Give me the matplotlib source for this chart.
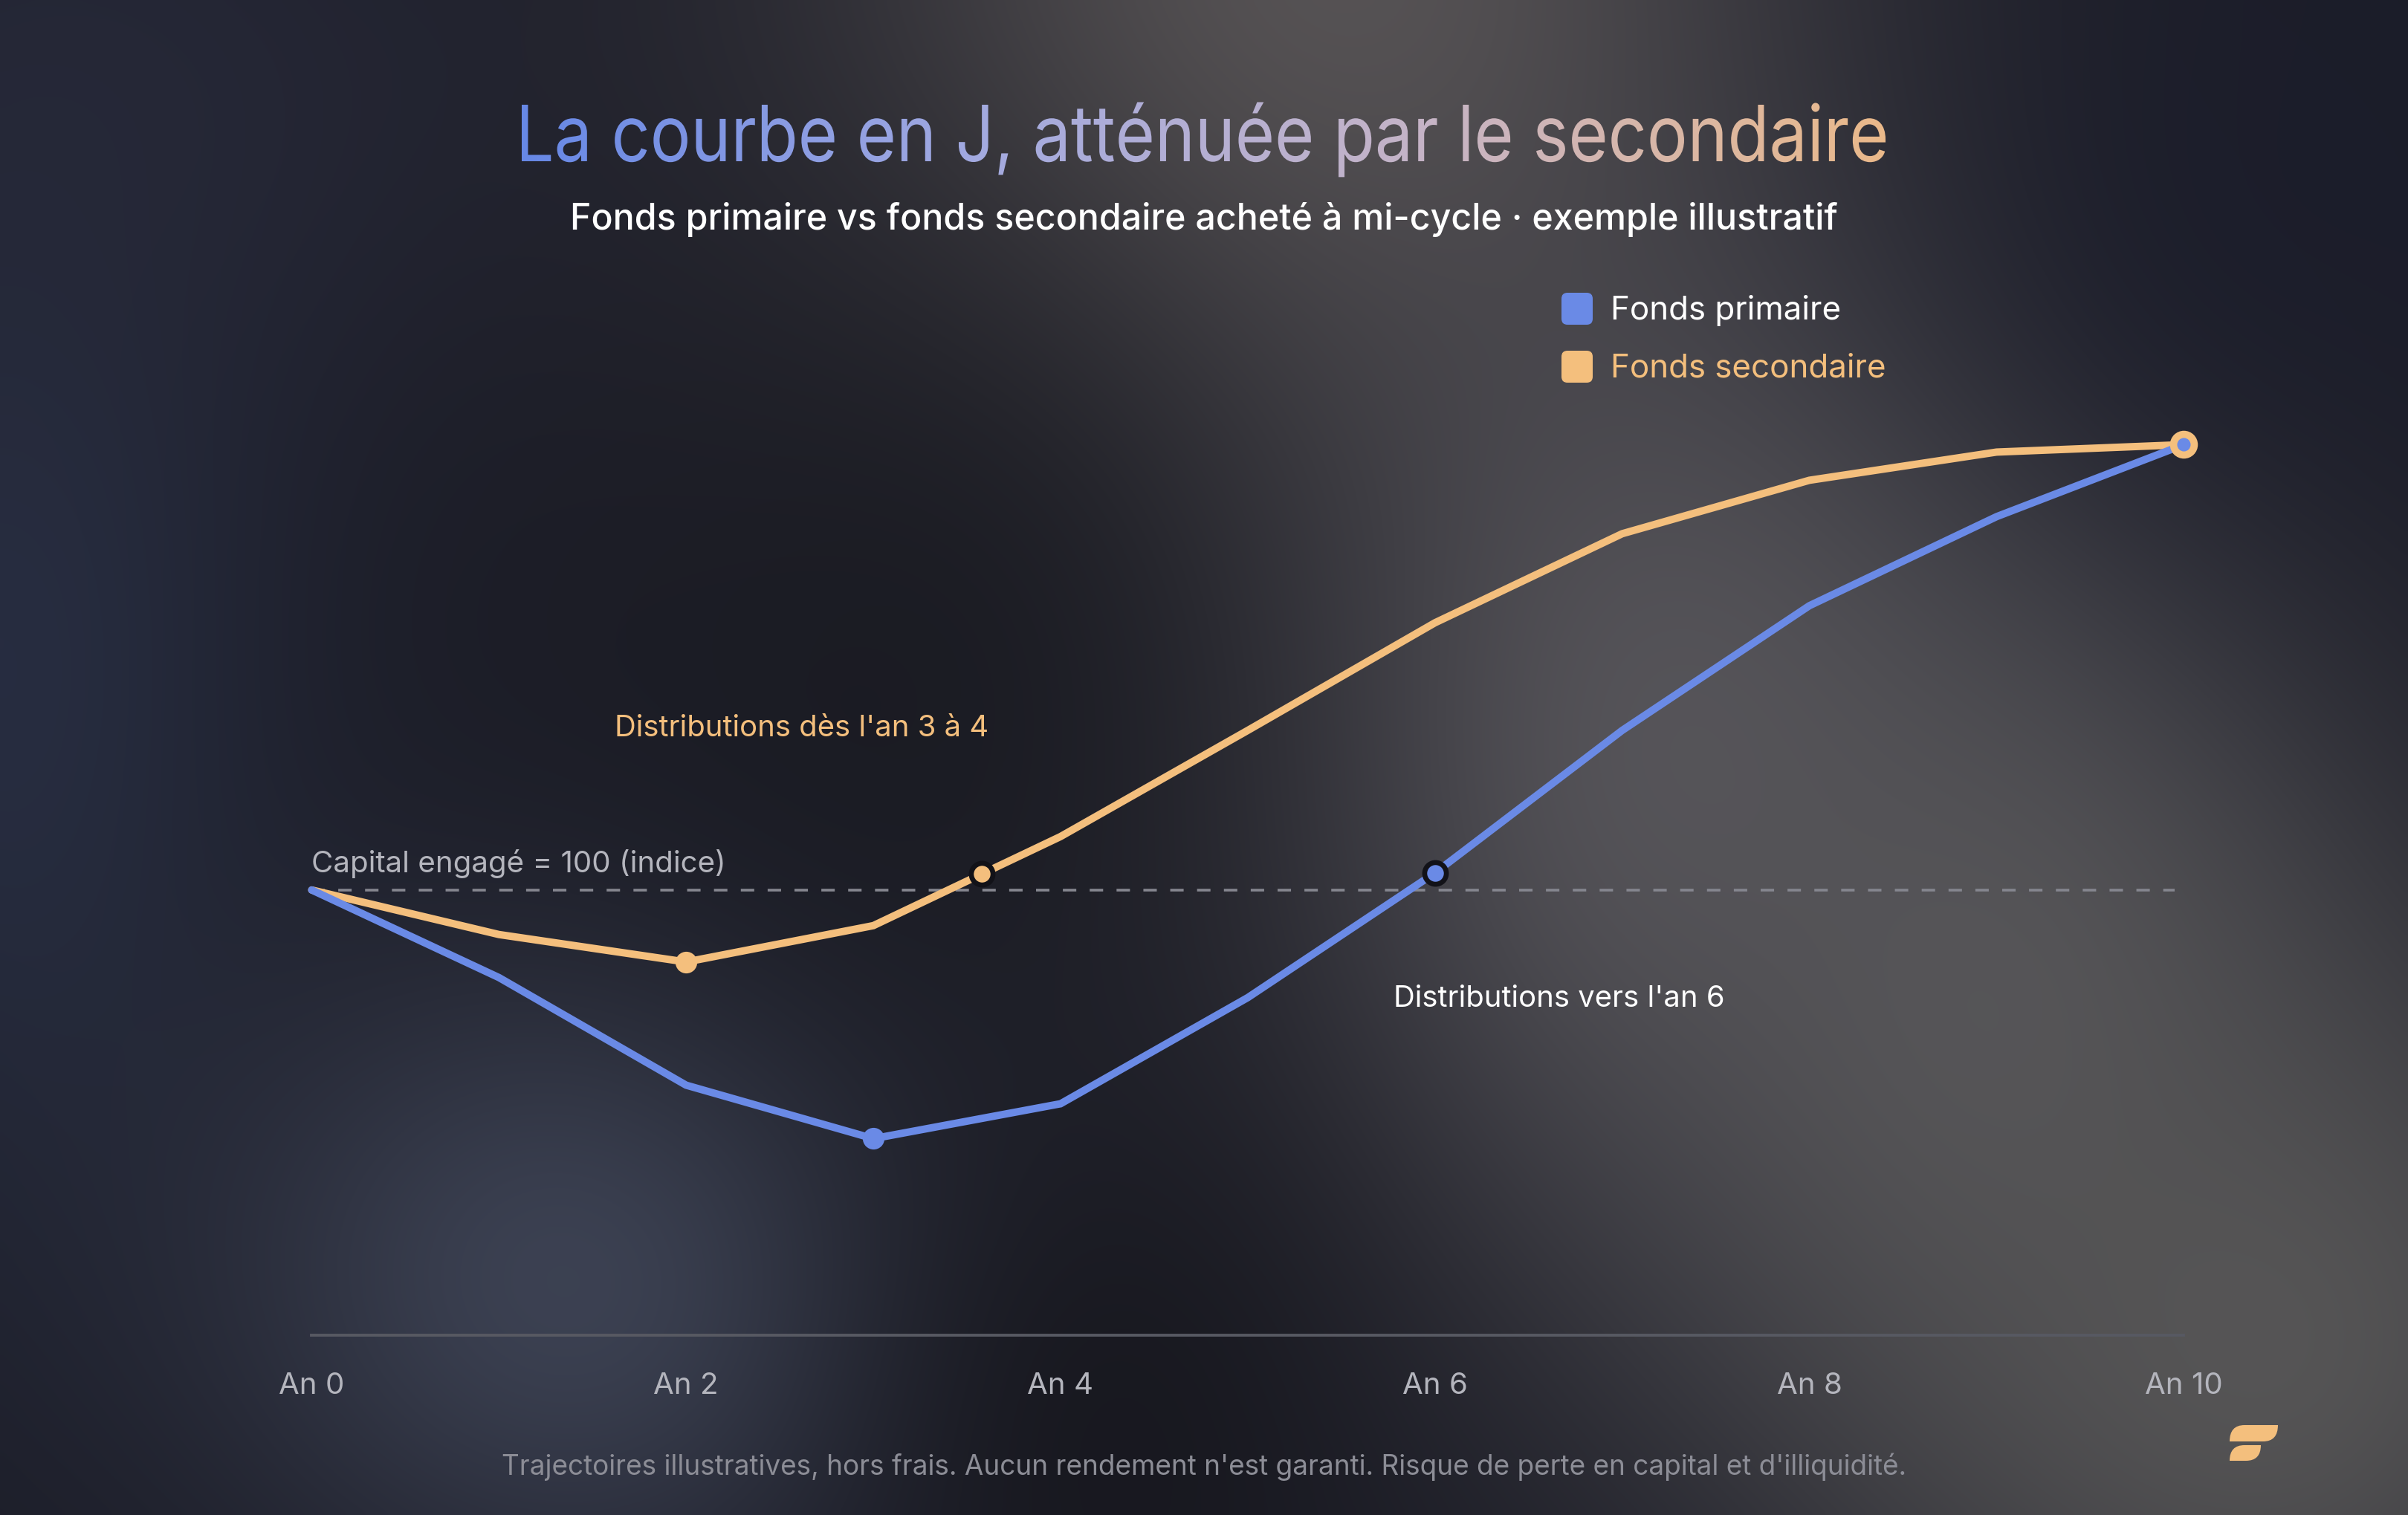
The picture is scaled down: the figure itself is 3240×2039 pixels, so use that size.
import numpy as np
import matplotlib
matplotlib.use("Agg")
import matplotlib.pyplot as plt
from matplotlib.textpath import TextPath
from matplotlib.font_manager import FontProperties
from matplotlib.patches import PathPatch, FancyBboxPatch
from matplotlib.path import Path
from matplotlib.colors import LinearSegmentedColormap, to_rgb

# Data (indice, capital engagé = 100)
years = list(range(11))
primary = [100, 88.2, 73.7, 66.5, 71.2, 85.5, 102.3, 121.5, 138.3, 150.3, 160]
secondary = [100, 94.0, 90.3, 95.2, 107.2, 121.5, 136.0, 148.0, 155.2, 159.0, 160]
tick_years = [0, 2, 4, 6, 8, 10]
tick_labels = ["An 0", "An 2", "An 4", "An 6", "An 8", "An 10"]
primary_low = 3
secondary_low = 2
primary_dist = 6
secondary_dist = 3.58
capital = 100

BLUE = "#6a8ae6"
ORANGE = "#f4bf7d"

plt.rcParams['font.family'] = ['Inter', 'DejaVu Sans']
plt.rcParams['lines.scale_dashes'] = False

W, H = 3240, 2040
fig = plt.figure(figsize=(W / 200, H / 200), dpi=200)

# background: dark base with soft blurred blobs
bg = fig.add_axes([0, 0, 1, 1])
gx, gy = np.meshgrid(np.linspace(0, 1568, 400), np.linspace(0, 987, 252))
img = np.ones(gx.shape + (3,)) * np.array(to_rgb("#1b1c26"))
blobs = [
    ((0, 420), (130, 280), "#293045", 0.85),
    ((60, 60), (220, 160), "#282a3a", 0.7),
    ((860, -20), (230, 260), "#5a5657", 0.95),
    ((1080, 480), (200, 240), "#5b595e", 0.9),
    ((1300, 650), (170, 220), "#5a595c", 0.85),
    ((1480, 880), (200, 200), "#5a5959", 0.9),
    ((380, 830), (170, 150), "#414759", 0.9),
    ((620, 420), (170, 200), "#17181f", 0.7),
    ((1480, 130), (160, 160), "#1b1d2b", 0.8),
    ((720, 930), (120, 160), "#15151b", 0.7),
]
for (cx, cy), (sx, sy), col, a in blobs:
    w = a * np.exp(-((gx - cx) ** 2 / (2 * sx ** 2) + (gy - cy) ** 2 / (2 * sy ** 2)))
    img = img * (1 - w[..., None]) + np.array(to_rgb(col)) * w[..., None]
bg.imshow(img, extent=[0, W, 0, H], aspect='auto', interpolation='bicubic', origin='upper')

# title with horizontal colour gradient (narrowed to match the condensed look)
title = "La courbe en J, atténuée par le secondaire"
fp = FontProperties(family="Inter", weight="normal")
tp = TextPath((0, 0), title, size=100, prop=fp)
ext = tp.get_extents()
sx_t = 1835 / ext.width
sy_t = 76 / 72.7
v = tp.vertices.copy()
v[:, 0] = (v[:, 0] - ext.x0) * sx_t + 702
v[:, 1] = v[:, 1] * sy_t + 1822
patch = PathPatch(Path(v, tp.codes), facecolor='none', edgecolor='none')
bg.add_patch(patch)
cmap = LinearSegmentedColormap.from_list("t", ["#6788e6", "#a3aae0", "#c6b4c6", "#eab98a"])
grad = bg.imshow(np.linspace(0, 1, 512)[None, :], cmap=cmap, aspect='auto',
                 extent=[702, 2537, 1822 - 60, 1822 + 140])
grad.set_clip_path(patch)

fig.text(0.5, 1 - 143 / 987, "Fonds primaire vs fonds secondaire acheté à mi-cycle · exemple illustratif",
         ha='center', va='center', color='white', fontsize=17.4, fontweight='medium')

# legend
for (y0, col, lab) in [(1602, BLUE, "Fonds primaire"), (1524, ORANGE, "Fonds secondaire")]:
    bg.add_patch(FancyBboxPatch((2101, y0), 42, 43, boxstyle="round,pad=0,rounding_size=8",
                                facecolor=col, edgecolor='none'))
    bg.text(2167, y0 + 20, lab, color='white' if col == BLUE else ORANGE,
            fontsize=15.8, va='center', ha='left')

# footer
fig.text(0.5, 1 - 955 / 987,
         "Trajectoires illustratives, hors frais. Aucun rendement n'est garanti. Risque de perte en capital et d'illiquidité.",
         ha='center', va='center', color='#8c8d96', fontsize=13.3)

# logo
def leaf(x0, x1, y0, y1, r):
    pts = [(x0, y1), (x0, y0), (x0 + r, y0), (x1, y0), (x1, y1), (x1 - r, y1), (x0, y1)]
    codes = [Path.MOVETO, Path.CURVE3, Path.CURVE3, Path.LINETO, Path.CURVE3, Path.CURVE3, Path.CLOSEPOLY]
    pts = [(px, H - py) for px, py in pts]
    return PathPatch(Path(pts, codes), facecolor=ORANGE, edgecolor='none')

bg.add_patch(leaf(3000, 3065, 1919, 1941, 20))
bg.add_patch(leaf(3000, 3042, 1946, 1967, 20))
bg.set_xlim(0, W)
bg.set_ylim(0, H)
bg.axis('off')

# chart
k = 4.833
ax = fig.add_axes([203 / 1568, 1 - 870 / 987, (1422 - 203) / 1568, (870 - 197) / 987])
ax.patch.set_alpha(0)
ax.set_xlim(0, 10)
ax.set_ylim(40, 100 + (580 - 197) / k)
for sp in ['top', 'right', 'left']:
    ax.spines[sp].set_visible(False)
ax.spines['bottom'].set_color('#575962')
ax.spines['bottom'].set_linewidth(1.4)
ax.set_yticks([])
ax.set_xticks(tick_years, tick_labels)
ax.tick_params(axis='x', length=0, pad=17.5, colors='#b4b5bd', labelsize=14.5)

ax.plot([0, 9.95], [capital, capital], color='#85868f', lw=1.3, dashes=(6.5, 6.5), zorder=2)
ax.plot(years, secondary, color=ORANGE, lw=3.6, solid_joinstyle='miter', solid_capstyle='round',
        clip_on=False, zorder=3)
ax.plot(years, primary, color=BLUE, lw=3.6, solid_joinstyle='miter', solid_capstyle='round',
        clip_on=False, zorder=4)

ax.plot(years[primary_low], primary[primary_low], 'o', ms=9.5, color=BLUE, zorder=5)
ax.plot(years[secondary_low], secondary[secondary_low], 'o', ms=9.5, color=ORANGE, zorder=5)
ax.plot(years[primary_dist], primary[primary_dist], 'o', ms=10.5, mfc=BLUE, mec='#121218', mew=2.4, zorder=5)
ax.plot(secondary_dist, np.interp(secondary_dist, years, secondary), 'o', ms=10.5, mfc=ORANGE,
        mec='#121218', mew=2.4, zorder=5)
ax.plot(years[-1], secondary[-1], 'o', ms=12.5, color=ORANGE, clip_on=False, zorder=6)
ax.plot(years[-1], primary[-1], 'o', ms=5.5, color=BLUE, clip_on=False, zorder=7)

ax.text(0, 103.6, "Capital engagé = 100 (indice)", color='#b4b5bd', fontsize=14.5, va='center', ha='left')
ax.text(1.616, 121.9, "Distributions dès l'an 3 à 4", color=ORANGE, fontsize=14.4, va='center', ha='left')
ax.text(5.78, 85.4, "Distributions vers l'an 6", color='white', fontsize=14.4, va='center', ha='left')

fig.savefig("out.png", dpi=200)
